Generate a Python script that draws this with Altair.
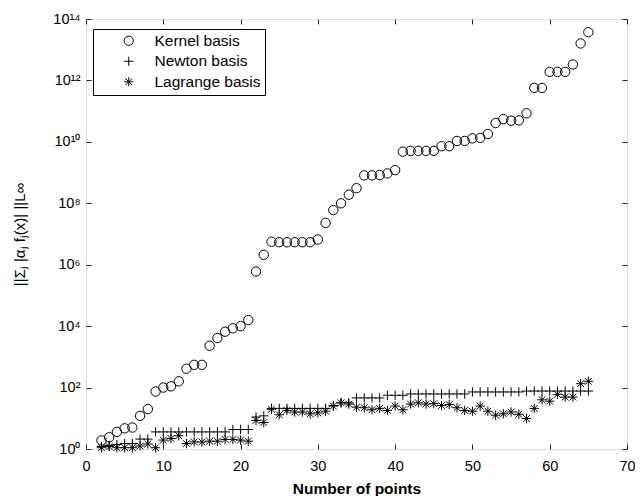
import altair as alt
import pandas as pd
import math

# ---- data ----
n_points = [2, 3, 4, 5, 6, 7, 8, 9, 10, 11, 12, 13, 14, 15, 16, 17, 18, 19, 20, 21,
            22, 23, 24, 25, 26, 27, 28, 29, 30, 31, 32, 33, 34, 35, 36, 37, 38, 39, 40, 41,
            42, 43, 44, 45, 46, 47, 48, 49, 50, 51, 52, 53, 54, 55, 56, 57, 58, 59, 60, 61,
            62, 63, 64, 65]

kernel = [1.9, 2.4, 3.6, 4.7, 5.0, 12, 20, 74, 100, 110, 160, 410, 550, 550, 2300, 4100,
          6600, 8500, 1.0e4, 1.58e4, 6.0e5, 2.1e6, 5.6e6, 5.4e6, 5.4e6, 5.4e6, 5.4e6, 5.4e6,
          6.6e6, 2.3e7, 6.0e7, 1.0e8, 1.9e8, 3.1e8, 8.1e8, 8.1e8, 8.3e8, 9.4e8, 1.2e9, 4.8e9,
          5.1e9, 5.1e9, 5.1e9, 5.1e9, 7.2e9, 7.2e9, 1.07e10, 1.07e10, 1.3e10, 1.35e10, 1.8e10,
          4.1e10, 5.5e10, 4.9e10, 5.0e10, 8.5e10, 5.7e11, 5.7e11, 1.9e12, 1.9e12, 1.9e12,
          3.3e12, 1.6e13, 3.7e13]

newton = [1.2, 1.3, 1.4, 1.5, 1.5, 2.1, 2.1, 3.6, 3.6, 3.6, 3.6, 3.6, 3.6, 3.6, 3.6, 3.6,
          3.6, 4.3, 4.3, 4.3, 11, 12, 21, 21, 21, 21, 21, 21, 21, 21, 26, 32, 32, 46, 46, 46,
          46, 56, 56, 56, 62, 62, 62, 62, 62, 62, 62, 62, 72, 72, 72, 72, 72, 72, 72, 77, 77,
          77, 77, 77, 77, 77, 77, 77]

lagrange = [1.1, 1.2, 1.1, 1.1, 1.1, 1.25, 1.45, 1.1, 1.95, 2.2, 2.7, 1.5, 1.7, 1.7, 1.8,
            1.8, 2.05, 2.05, 1.95, 1.8, 8.5, 7.3, 19.7, 13, 18, 16, 16, 14, 15, 17, 25, 32,
            29, 23, 22, 19, 21, 18, 25, 19, 29, 32, 29, 30, 26, 28, 22, 18, 17, 25, 17, 12.6,
            14, 16, 13.5, 9.8, 21, 40, 36, 60, 49, 49, 134, 160]

series_names = ["Kernel basis", "Newton basis", "Lagrange basis"]
x_ticks = [0, 10, 20, 30, 40, 50, 60, 70]
y_ticks = [1, 1e2, 1e4, 1e6, 1e8, 1e10, 1e12, 1e14]
y_tick_labels = ["10⁰", "10²", "10⁴", "10⁶", "10⁸", "10¹⁰", "10¹²", "10¹⁴"]

rows = []
for name, vals in zip(series_names, [kernel, newton, lagrange]):
    for xv, yv in zip(n_points, vals):
        rows.append({"n": xv, "value": yv, "series": name})
df = pd.DataFrame(rows)

plus_path = "M-1,0L1,0M0,-1L0,1"
star_path = "M-1,0L1,0M0,-1L0,1M-0.72,-0.72L0.72,0.72M-0.72,0.72L0.72,-0.72"

# label expression mapping exponent -> superscript label
exp_expr = "round(log(datum.value)/LN10)"
label_expr = "''"
for v, lab in reversed(list(zip(y_ticks, y_tick_labels))):
    e = int(round(math.log10(v)))
    label_expr = f"({exp_expr} == {e} ? '{lab}' : {label_expr})"

W, H = 541, 430
FONT = "Liberation Sans"

x_scale = alt.Scale(domain=[0, 70], nice=False, zero=False)
y_scale = alt.Scale(type="log", domain=[1, 1e14], nice=False)

points = alt.Chart(df).mark_point(
    filled=False, strokeWidth=1, color="black", opacity=1, size=88
).encode(
    x=alt.X("n:Q", scale=x_scale, axis=alt.Axis(
        orient="bottom", values=x_ticks, title="Number of points", offset=-5,
        tickSize=5, tickColor="#222222", domain=False, grid=False, labelPadding=10,
        labelFontSize=14.5, labelColor="black", labelFont=FONT, labelFlush=False,
        titleFont=FONT, titleFontSize=15.5, titleFontWeight="bold", titleColor="black",
        titleX=W / 2, titleY=44, titleBaseline="middle")),
    y=alt.Y("value:Q", scale=y_scale, axis=alt.Axis(
        orient="left", values=y_ticks, labelExpr=label_expr, title="||Σⱼ |αⱼ fⱼ(x)| ||L∞",
        offset=-5, tickSize=5, tickColor="#222222", domain=False, grid=False,
        labelPadding=6, labelFontSize=14.5, labelColor="black", labelFont=FONT,
        labelFlush=False, titleFont=FONT, titleFontSize=15, titleFontWeight="normal",
        titleColor="black", titleX=-72, titleY=H / 2, titleBaseline="middle", titleAngle=-90)),
    shape=alt.Shape("series:N", scale=alt.Scale(domain=series_names,
                                                range=["circle", plus_path, star_path]),
                    legend=alt.Legend(
                        title=None, orient="none", legendX=7, legendY=10,
                        strokeColor="black", fillColor="white", padding=4,
                        symbolOffset=24, labelOffset=18, rowPadding=3.5,
                        labelFont=FONT, labelFontSize=15.5, labelColor="black",
                        symbolSize=85, symbolStrokeColor="black", symbolStrokeWidth=1,
                        symbolFillColor="transparent", cornerRadius=0)),
)

ticks_layer = alt.Chart(df).mark_point(opacity=0).encode(
    x=alt.X("n:Q", scale=x_scale, axis=alt.Axis(
        orient="top", values=x_ticks, labels=False, title=None, offset=-5, tickSize=5,
        tickColor="#222222", domain=False, grid=False)),
    y=alt.Y("value:Q", scale=y_scale, axis=alt.Axis(
        orient="right", values=y_ticks, labels=False, title=None, offset=-5, tickSize=5,
        tickColor="#222222", domain=False, grid=False)),
)

chart = alt.layer(points, ticks_layer).resolve_axis(
    x="independent", y="independent"
).properties(
    width=W, height=H,
    autosize=alt.AutoSizeParams(type="none"),
    padding={"left": 78, "top": 11, "right": 8, "bottom": 47},
).configure_view(
    stroke="black", strokeWidth=1
).configure(
    background="white", font=FONT
)

chart.save("out.html", embed_options={"renderer": "svg", "actions": False})
